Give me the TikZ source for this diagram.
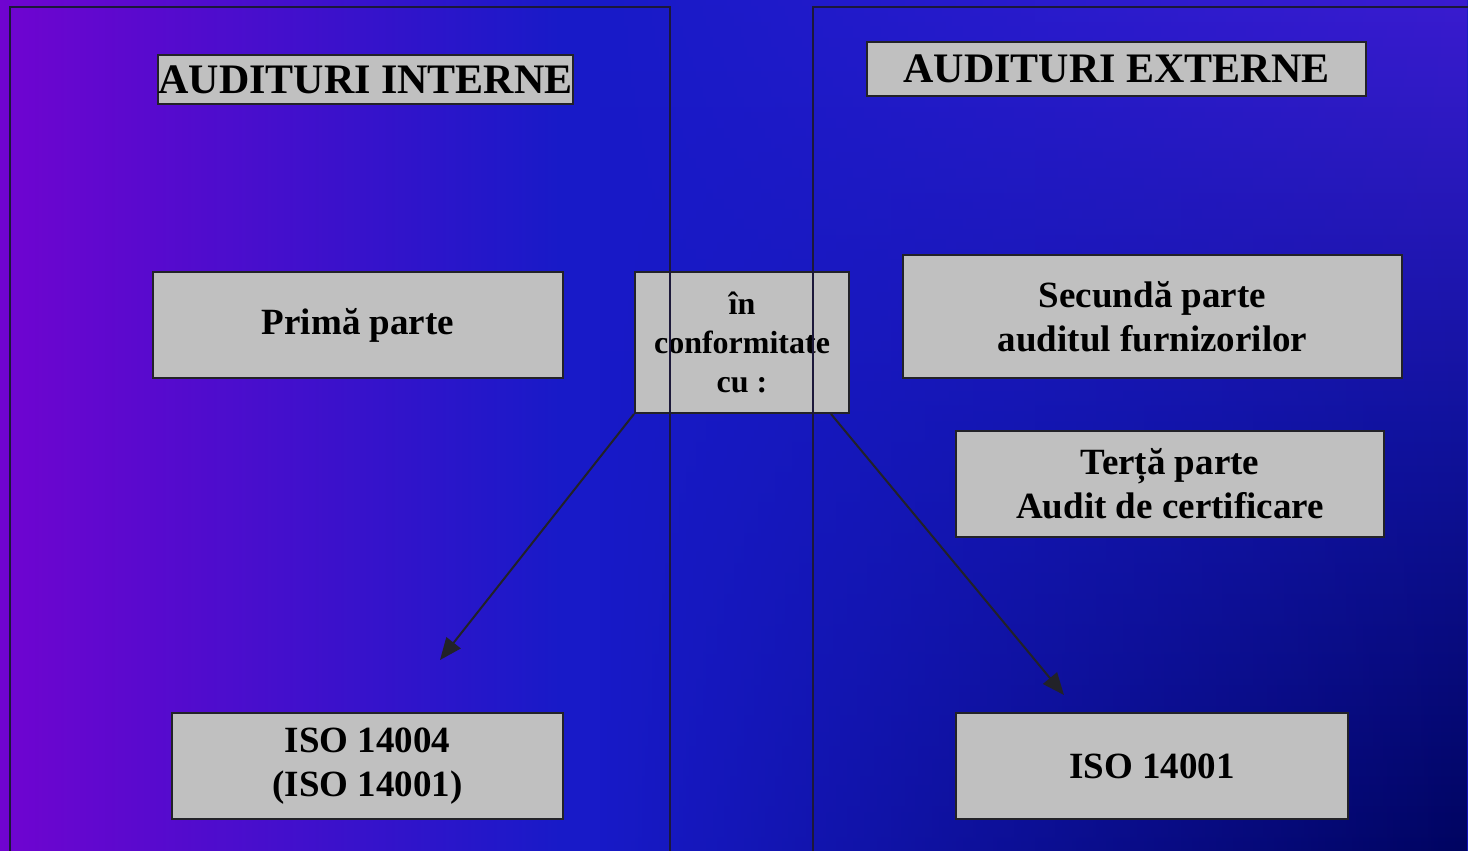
\documentclass[tikz,border=0pt]{standalone}
\usepackage{fontspec}
\setmainfont{Liberation Serif}
\definecolor{bgpurple}{RGB}{112,4,208}
\definecolor{bgblue}{RGB}{24,26,200}
\definecolor{bgtop}{RGB}{58,28,208}
\definecolor{bgmid}{RGB}{16,18,156}
\definecolor{bgnavy}{RGB}{0,4,96}
\definecolor{boxgray}{RGB}{192,192,192}
\definecolor{boxline}{RGB}{34,34,40}
\definecolor{panelline}{RGB}{28,24,58}
\usetikzlibrary{arrows.meta, fadings}
\tikzfading[name=fadeeast, left color=transparent!100, right color=transparent!0]
\tikzset{
  gbox/.style={draw=boxline, fill=boxgray, line width=1pt, inner sep=0pt,
               minimum width=#1, align=center,
               font=\bfseries\fontsize{18.5}{22}\selectfont},
  ttl/.style={gbox=#1, font=\bfseries\fontsize{21}{24}\selectfont},
  conf/.style={gbox=#1, font=\bfseries\fontsize{16}{19.5}\selectfont},
  panel/.style={draw=panelline, line width=0.8pt},
  arr/.style={-{Triangle[length=11pt, width=9pt]}, draw=boxline, line width=1pt},
}
\begin{document}
\begin{tikzpicture}[x=0.5pt, y=-0.5pt]
  \useasboundingbox (0,0) rectangle (1468,851);
  \begin{scope}
    \clip (0,0) rectangle (1468,851);
    \shade[left color=bgpurple, right color=bgblue] (0,0) rectangle (560,851);
    \fill[bgblue] (559,0) rectangle (1468,851);
    \shade[top color=bgtop, bottom color=bgnavy, middle color=bgmid,
           path fading=fadeeast] (600,0) rectangle (1468,851);
  \end{scope}

  \node[ttl=207.5pt, minimum height=24.5pt]  (ttlI)  at (365.5, 79.5) {AUDITURI INTERNE};
  \node[ttl=249.5pt, minimum height=27pt]    (ttlE)  at (1116.5,69)   {AUDITURI EXTERNE};
  \node[gbox=205pt,  minimum height=53pt]    (prima) at (358,  325)   {Primă parte};
  \node[conf=107pt,  minimum height=70.5pt]  (cf)    at (742,  342.5) {în\\conformitate\\cu :};
  \node[gbox=249.5pt,minimum height=61.5pt]  (sec)   at (1152.5,316.5){Secundă parte\\auditul furnizorilor};
  \node[gbox=214pt,  minimum height=53pt]    (terta) at (1170, 484)   {Terță parte\\Audit de certificare};
  \node[gbox=195.5pt,minimum height=53pt]    (iso4)  at (367.5,766)   {ISO 14004\\(ISO 14001)};
  \node[gbox=196pt,  minimum height=53pt]    (iso1)  at (1152, 766)   {ISO 14001};

  \draw[panel] (10,7) rectangle (670,870);
  \draw[panel] (813,7) rectangle (1480,870);

  \coordinate (tipI) at (440,660);
  \coordinate (tipE) at (1064,695);
  \draw[arr] (cf.south west) -- (tipI);
  \draw[arr] ([xshift=-9.5pt]cf.south east) -- (tipE);
\end{tikzpicture}
\end{document}
